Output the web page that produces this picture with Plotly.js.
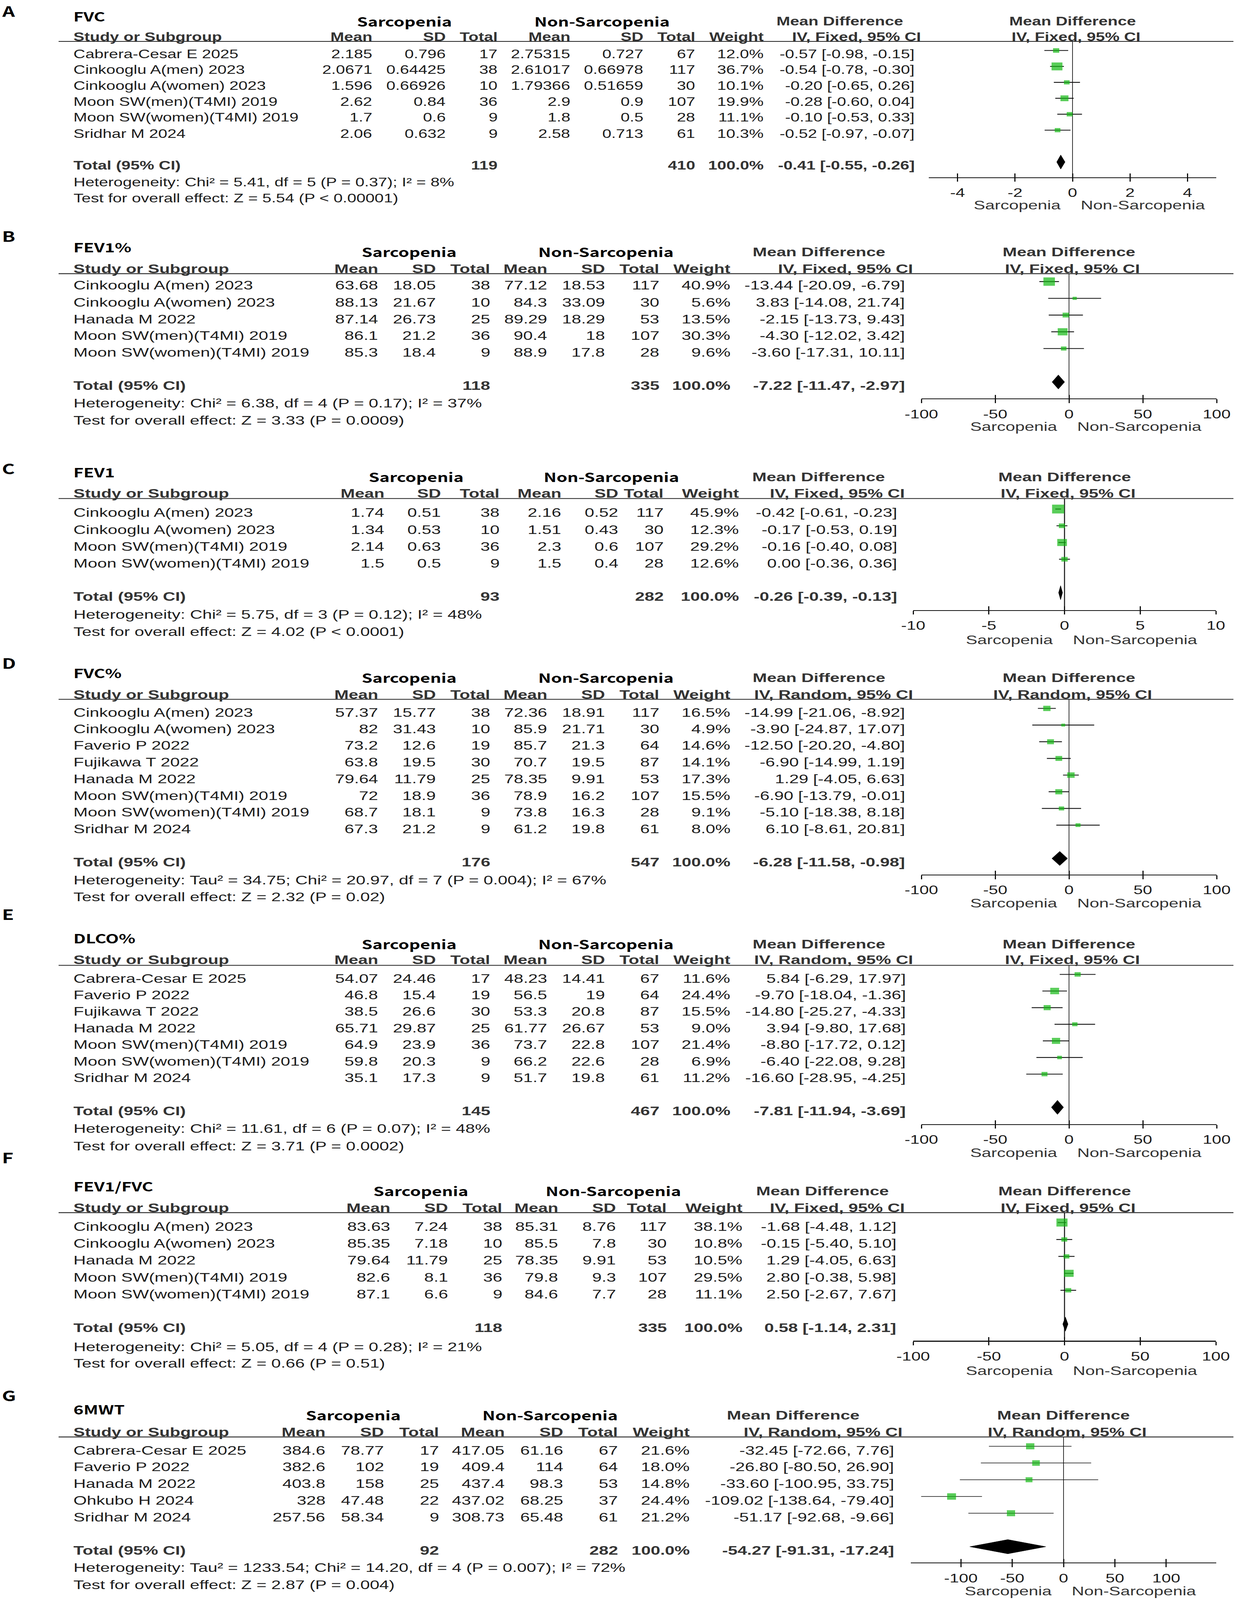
<!DOCTYPE html>
<html><head><meta charset="utf-8">
<script src="https://cdn.plot.ly/plotly-3.0.1.min.js"></script>
<style>html,body{margin:0;padding:0;background:#fff;overflow:hidden}</style>
</head><body>
<div id="wrap" style="width:3162px;height:5642px;transform-origin:0 0"><div id="chart" style="width:3162px;height:5642px"></div></div>
<script>
// ================= DATA =================
// Panel A – FVC
const A_title = 'FVC';
const A_study = ['Cabrera-Cesar E 2025','Cinkooglu A(men) 2023','Cinkooglu A(women) 2023','Moon SW(men)(T4MI) 2019','Moon SW(women)(T4MI) 2019','Sridhar M 2024'];
const A_sMean = [2.185, 2.0671, 1.596, 2.62, 1.7, 2.06];
const A_sSD   = [0.796, 0.64425, 0.66926, 0.84, 0.6, 0.632];
const A_sN    = [17, 38, 10, 36, 9, 9];
const A_nMean = [2.75315, 2.61017, 1.79366, 2.9, 1.8, 2.58];
const A_nSD   = [0.727, 0.66978, 0.51659, 0.9, 0.5, 0.713];
const A_nN    = [67, 117, 30, 107, 28, 61];
const A_weight= [12.0, 36.7, 10.1, 19.9, 11.1, 10.3];
const A_md    = [-0.57, -0.54, -0.20, -0.28, -0.10, -0.52];
const A_lo    = [-0.98, -0.78, -0.65, -0.60, -0.53, -0.97];
const A_hi    = [-0.15, -0.30, 0.26, 0.04, 0.33, -0.07];
const A_total = [119, 410];
const A_totalCI = [-0.41, -0.55, -0.26];
const A_het  = 'Heterogeneity: Chi² = 5.41, df = 5 (P = 0.37); I² = 8%';
const A_test = 'Test for overall effect: Z = 5.54 (P < 0.00001)';
const A_tabMethod = 'IV, Fixed, 95% CI';
const A_plotMethod = 'IV, Fixed, 95% CI';
const A_ticks = [-4, -2, 0, 2, 4];

// Panel B – FEV1%
const B_title = 'FEV1%';
const B_study = ['Cinkooglu A(men) 2023','Cinkooglu A(women) 2023','Hanada M 2022','Moon SW(men)(T4MI) 2019','Moon SW(women)(T4MI) 2019'];
const B_sMean = [63.68, 88.13, 87.14, 86.1, 85.3];
const B_sSD   = [18.05, 21.67, 26.73, 21.2, 18.4];
const B_sN    = [38, 10, 25, 36, 9];
const B_nMean = [77.12, 84.3, 89.29, 90.4, 88.9];
const B_nSD   = [18.53, 33.09, 18.29, 18, 17.8];
const B_nN    = [117, 30, 53, 107, 28];
const B_weight= [40.9, 5.6, 13.5, 30.3, 9.6];
const B_md    = [-13.44, 3.83, -2.15, -4.30, -3.60];
const B_lo    = [-20.09, -14.08, -13.73, -12.02, -17.31];
const B_hi    = [-6.79, 21.74, 9.43, 3.42, 10.11];
const B_total = [118, 335];
const B_totalCI = [-7.22, -11.47, -2.97];
const B_het  = 'Heterogeneity: Chi² = 6.38, df = 4 (P = 0.17); I² = 37%';
const B_test = 'Test for overall effect: Z = 3.33 (P = 0.0009)';
const B_tabMethod = 'IV, Fixed, 95% CI';
const B_plotMethod = 'IV, Fixed, 95% CI';
const B_ticks = [-100, -50, 0, 50, 100];

// Panel C – FEV1
const C_title = 'FEV1';
const C_study = ['Cinkooglu A(men) 2023','Cinkooglu A(women) 2023','Moon SW(men)(T4MI) 2019','Moon SW(women)(T4MI) 2019'];
const C_sMean = [1.74, 1.34, 2.14, 1.5];
const C_sSD   = [0.51, 0.53, 0.63, 0.5];
const C_sN    = [38, 10, 36, 9];
const C_nMean = [2.16, 1.51, 2.3, 1.5];
const C_nSD   = [0.52, 0.43, 0.6, 0.4];
const C_nN    = [117, 30, 107, 28];
const C_weight= [45.9, 12.3, 29.2, 12.6];
const C_md    = [-0.42, -0.17, -0.16, 0.00];
const C_lo    = [-0.61, -0.53, -0.40, -0.36];
const C_hi    = [-0.23, 0.19, 0.08, 0.36];
const C_total = [93, 282];
const C_totalCI = [-0.26, -0.39, -0.13];
const C_het  = 'Heterogeneity: Chi² = 5.75, df = 3 (P = 0.12); I² = 48%';
const C_test = 'Test for overall effect: Z = 4.02 (P < 0.0001)';
const C_tabMethod = 'IV, Fixed, 95% CI';
const C_plotMethod = 'IV, Fixed, 95% CI';
const C_ticks = [-10, -5, 0, 5, 10];

// Panel D – FVC%
const D_title = 'FVC%';
const D_study = ['Cinkooglu A(men) 2023','Cinkooglu A(women) 2023','Faverio P 2022','Fujikawa T 2022','Hanada M 2022','Moon SW(men)(T4MI) 2019','Moon SW(women)(T4MI) 2019','Sridhar M 2024'];
const D_sMean = [57.37, 82, 73.2, 63.8, 79.64, 72, 68.7, 67.3];
const D_sSD   = [15.77, 31.43, 12.6, 19.5, 11.79, 18.9, 18.1, 21.2];
const D_sN    = [38, 10, 19, 30, 25, 36, 9, 9];
const D_nMean = [72.36, 85.9, 85.7, 70.7, 78.35, 78.9, 73.8, 61.2];
const D_nSD   = [18.91, 21.71, 21.3, 19.5, 9.91, 16.2, 16.3, 19.8];
const D_nN    = [117, 30, 64, 87, 53, 107, 28, 61];
const D_weight= [16.5, 4.9, 14.6, 14.1, 17.3, 15.5, 9.1, 8.0];
const D_md    = [-14.99, -3.90, -12.50, -6.90, 1.29, -6.90, -5.10, 6.10];
const D_lo    = [-21.06, -24.87, -20.20, -14.99, -4.05, -13.79, -18.38, -8.61];
const D_hi    = [-8.92, 17.07, -4.80, 1.19, 6.63, -0.01, 8.18, 20.81];
const D_total = [176, 547];
const D_totalCI = [-6.28, -11.58, -0.98];
const D_het  = 'Heterogeneity: Tau² = 34.75; Chi² = 20.97, df = 7 (P = 0.004); I² = 67%';
const D_test = 'Test for overall effect: Z = 2.32 (P = 0.02)';
const D_tabMethod = 'IV, Random, 95% CI';
const D_plotMethod = 'IV, Random, 95% CI';
const D_ticks = [-100, -50, 0, 50, 100];

// Panel E – DLCO%
const E_title = 'DLCO%';
const E_study = ['Cabrera-Cesar E 2025','Faverio P 2022','Fujikawa T 2022','Hanada M 2022','Moon SW(men)(T4MI) 2019','Moon SW(women)(T4MI) 2019','Sridhar M 2024'];
const E_sMean = [54.07, 46.8, 38.5, 65.71, 64.9, 59.8, 35.1];
const E_sSD   = [24.46, 15.4, 26.6, 29.87, 23.9, 20.3, 17.3];
const E_sN    = [17, 19, 30, 25, 36, 9, 9];
const E_nMean = [48.23, 56.5, 53.3, 61.77, 73.7, 66.2, 51.7];
const E_nSD   = [14.41, 19, 20.8, 26.67, 22.8, 22.6, 19.8];
const E_nN    = [67, 64, 87, 53, 107, 28, 61];
const E_weight= [11.6, 24.4, 15.5, 9.0, 21.4, 6.9, 11.2];
const E_md    = [5.84, -9.70, -14.80, 3.94, -8.80, -6.40, -16.60];
const E_lo    = [-6.29, -18.04, -25.27, -9.80, -17.72, -22.08, -28.95];
const E_hi    = [17.97, -1.36, -4.33, 17.68, 0.12, 9.28, -4.25];
const E_total = [145, 467];
const E_totalCI = [-7.81, -11.94, -3.69];
const E_het  = 'Heterogeneity: Chi² = 11.61, df = 6 (P = 0.07); I² = 48%';
const E_test = 'Test for overall effect: Z = 3.71 (P = 0.0002)';
const E_tabMethod = 'IV, Random, 95% CI';
const E_plotMethod = 'IV, Fixed, 95% CI';
const E_ticks = [-100, -50, 0, 50, 100];

// Panel F – FEV1/FVC
const F_title = 'FEV1/FVC';
const F_study = ['Cinkooglu A(men) 2023','Cinkooglu A(women) 2023','Hanada M 2022','Moon SW(men)(T4MI) 2019','Moon SW(women)(T4MI) 2019'];
const F_sMean = [83.63, 85.35, 79.64, 82.6, 87.1];
const F_sSD   = [7.24, 7.18, 11.79, 8.1, 6.6];
const F_sN    = [38, 10, 25, 36, 9];
const F_nMean = [85.31, 85.5, 78.35, 79.8, 84.6];
const F_nSD   = [8.76, 7.8, 9.91, 9.3, 7.7];
const F_nN    = [117, 30, 53, 107, 28];
const F_weight= [38.1, 10.8, 10.5, 29.5, 11.1];
const F_md    = [-1.68, -0.15, 1.29, 2.80, 2.50];
const F_lo    = [-4.48, -5.40, -4.05, -0.38, -2.67];
const F_hi    = [1.12, 5.10, 6.63, 5.98, 7.67];
const F_total = [118, 335];
const F_totalCI = [0.58, -1.14, 2.31];
const F_het  = 'Heterogeneity: Chi² = 5.05, df = 4 (P = 0.28); I² = 21%';
const F_test = 'Test for overall effect: Z = 0.66 (P = 0.51)';
const F_tabMethod = 'IV, Fixed, 95% CI';
const F_plotMethod = 'IV, Fixed, 95% CI';
const F_ticks = [-100, -50, 0, 50, 100];

// Panel G – 6MWT
const G_title = '6MWT';
const G_study = ['Cabrera-Cesar E 2025','Faverio P 2022','Hanada M 2022','Ohkubo H 2024','Sridhar M 2024'];
const G_sMean = [384.6, 382.6, 403.8, 328, 257.56];
const G_sSD   = [78.77, 102, 158, 47.48, 58.34];
const G_sN    = [17, 19, 25, 22, 9];
const G_nMean = [417.05, 409.4, 437.4, 437.02, 308.73];
const G_nSD   = [61.16, 114, 98.3, 68.25, 65.48];
const G_nN    = [67, 64, 53, 37, 61];
const G_weight= [21.6, 18.0, 14.8, 24.4, 21.2];
const G_md    = [-32.45, -26.80, -33.60, -109.02, -51.17];
const G_lo    = [-72.66, -80.50, -100.95, -138.64, -92.68];
const G_hi    = [7.76, 26.90, 33.75, -79.40, -9.66];
const G_total = [92, 282];
const G_totalCI = [-54.27, -91.31, -17.24];
const G_het  = 'Heterogeneity: Tau² = 1233.54; Chi² = 14.20, df = 4 (P = 0.007); I² = 72%';
const G_test = 'Test for overall effect: Z = 2.87 (P = 0.004)';
const G_tabMethod = 'IV, Random, 95% CI';
const G_plotMethod = 'IV, Random, 95% CI';
const G_ticks = [-100, -50, 0, 50, 100];

const groupLabels = ['Sarcopenia', 'Non-Sarcopenia'];
const colHeaders = ['Mean', 'SD', 'Total', 'Mean', 'SD', 'Total', 'Weight'];

// ================= LAYOUT GEOMETRY (pixels of the 3162x5642 figure) =================
const W = 3162, H = 5642;
const colsStd = [969, 1117, 1256, 1402, 1550, 1689, 1871];
const GEO = {
  A: {label:37, title:57, group:75, head:129, rule:146, r0:178, step:56.2, axis:625, sarcLab:724, het:643, test:699,
      fs:42, cols:[954,1142,1275,1461,1648,1781,1956], ciR:2343, ciHdrR:2359, grp:[1035,1541,2150],
      x0:2378, x1:3114, range:[-5,5], ciW:3},
  B: {label:831, title:871, group:888, head:947, rule:965, r0:993, step:59, axis:1405, sarcLab:1504, het:1420, test:1481,
      fs:44, cols:colsStd, ciR:2318, ciHdrR:2339, grp:[1047,1551,2097], x0:2359, x1:3115, range:[-100,100], ciW:3},
  C: {label:1650, title:1664, group:1681, head:1740, rule:1758, r0:1795, step:59, axis:2151, sarcLab:2255, het:2166, test:2227,
      fs:44, cols:[985,1130,1280,1438,1584,1700,1893], ciR:2298, ciHdrR:2318, grp:[1065,1565,2096], x0:2338, x1:3113, range:[-10,10], ciW:3},
  D: {label:2336, title:2372, group:2389, head:2448, rule:2466, r0:2498, step:58.8, axis:3084, sarcLab:3184, het:3103, test:3162,
      fs:44, cols:colsStd, ciR:2318, ciHdrR:2339, grp:[1047,1551,2097], x0:2359, x1:3115, range:[-100,100], ciW:3},
  E: {label:3222, title:3308, group:3328, head:3384, rule:3404, r0:3436, step:58.6, axis:3964, sarcLab:4064, het:3979, test:4040,
      fs:44, cols:colsStd, ciR:2320, ciHdrR:2339, grp:[1047,1551,2097], x0:2359, x1:3115, range:[-100,100], ciW:3},
  F: {label:4080, title:4182, group:4199, head:4258, rule:4276, r0:4311, step:59.7, axis:4728, sarcLab:4832, het:4748, test:4807,
      fs:44, cols:[1000,1148,1287,1430,1578,1708,1902], ciR:2296, ciHdrR:2318, grp:[1077,1570,2106], x0:2338, x1:3113, range:[-100,100], ciW:3},
  G: {label:4919, title:4969, group:4989, head:5049, rule:5067, r0:5100, step:59, axis:5510, sarcLab:5610, het:5527, test:5587,
      fs:44, cols:[834,984,1125,1293,1443,1583,1767], ciR:2290, ciHdrR:2312, grp:[904,1408,2031], x0:2332, x1:3114, range:[-148.7,148.7], ciW:2}
};

const panels = [
  ['A', A_title, A_study, A_sMean, A_sSD, A_sN, A_nMean, A_nSD, A_nN, A_weight, A_md, A_lo, A_hi, A_total, A_totalCI, A_het, A_test, A_tabMethod, A_plotMethod, A_ticks],
  ['B', B_title, B_study, B_sMean, B_sSD, B_sN, B_nMean, B_nSD, B_nN, B_weight, B_md, B_lo, B_hi, B_total, B_totalCI, B_het, B_test, B_tabMethod, B_plotMethod, B_ticks],
  ['C', C_title, C_study, C_sMean, C_sSD, C_sN, C_nMean, C_nSD, C_nN, C_weight, C_md, C_lo, C_hi, C_total, C_totalCI, C_het, C_test, C_tabMethod, C_plotMethod, C_ticks],
  ['D', D_title, D_study, D_sMean, D_sSD, D_sN, D_nMean, D_nSD, D_nN, D_weight, D_md, D_lo, D_hi, D_total, D_totalCI, D_het, D_test, D_tabMethod, D_plotMethod, D_ticks],
  ['E', E_title, E_study, E_sMean, E_sSD, E_sN, E_nMean, E_nSD, E_nN, E_weight, E_md, E_lo, E_hi, E_total, E_totalCI, E_het, E_test, E_tabMethod, E_plotMethod, E_ticks],
  ['F', F_title, F_study, F_sMean, F_sSD, F_sN, F_nMean, F_nSD, F_nN, F_weight, F_md, F_lo, F_hi, F_total, F_totalCI, F_het, F_test, F_tabMethod, F_plotMethod, F_ticks],
  ['G', G_title, G_study, G_sMean, G_sSD, G_sN, G_nMean, G_nSD, G_nN, G_weight, G_md, G_lo, G_hi, G_total, G_totalCI, G_het, G_test, G_tabMethod, G_plotMethod, G_ticks]
];

// ================= BUILD =================
const FONT = '"Liberation Sans", Arial, Helvetica, sans-serif';
const CJK = '"Noto Sans CJK SC", "Noto Sans", sans-serif';
const GREEN = '#12b812';
const TXT = '#1c1c1c', HDR = '#333333';
const TEXT_OFF = 13;
const BOX_K = 4.6;
const DIAMOND_HALF = 25;

const px = x => x / W;
const py = y => 1 - y / H;
const fmt2 = v => v.toFixed(2);
const ciTxt = (m, l, h) => `${fmt2(m)} [${fmt2(l)}, ${fmt2(h)}]`;

const traces = [];
const annotations = [];
const shapes = [];
const layout = {
  width: W, height: H, margin: {l:0, r:0, t:0, b:0},
  paper_bgcolor: '#fff', plot_bgcolor: 'rgba(0,0,0,0)',
  showlegend: false, annotations, shapes, hovermode: false
};

function T(text, x, y, o) {
  o = o || {};
  annotations.push({
    text: text, x: px(x), y: py(y), xref: 'paper', yref: 'paper', showarrow: false,
    xanchor: o.xa || 'left', yanchor: 'middle', borderpad: 0,
    font: {family: o.fam || FONT, size: o.size, color: o.color || TXT}
  });
}

panels.forEach((p, idx) => {
  const [id, title, study, sMean, sSD, sN, nMean, nSD, nN, weight, md, lo, hi, total, totCI, het, test, tabMethod, plotMethod, ticks] = p;
  const g = GEO[id];
  const k = idx + 1;
  const xid = k === 1 ? '' : String(k);
  const xo = String(k + 7);
  const n = study.length;
  const rowPx = i => g.r0 + i * g.step;
  const diamondPx = rowPx(n + 1);
  const fs = g.fs;

  T('<b>' + id + '</b>', 4, g.label, {fam: CJK, size: 50, color: '#000'});
  T('<b>' + title + '</b>', 187, g.title, {fam: CJK, size: 44, color: '#000'});
  T('<b>' + groupLabels[0] + '</b>', g.grp[0], g.group, {fam: CJK, size: 44, color: '#000', xa: 'center'});
  T('<b>' + groupLabels[1] + '</b>', g.grp[1], g.group, {fam: CJK, size: 44, color: '#000', xa: 'center'});
  T('<b>Mean Difference</b>', g.grp[2], g.group, {size: fs, color: HDR, xa: 'center'});
  T('<b>Study or Subgroup</b>', 187, g.head, {size: fs, color: HDR});
  colHeaders.forEach((h, c) => T('<b>' + h + '</b>', g.cols[c], g.head, {size: fs, color: HDR, xa: 'right'}));
  T('<b>' + tabMethod + '</b>', g.ciHdrR, g.head, {size: fs, color: HDR, xa: 'right'});

  annotations.push({text: '<b>Mean Difference</b>', xref: 'x' + xid, x: 0, yref: 'paper', y: py(g.group),
    xanchor: 'center', yanchor: 'middle', showarrow: false, borderpad: 0, font: {family: FONT, size: fs, color: HDR}});
  annotations.push({text: '<b>' + plotMethod + '</b>', xref: 'x' + xid, x: 0, xshift: 9, yref: 'paper', y: py(g.head),
    xanchor: 'center', yanchor: 'middle', showarrow: false, borderpad: 0, font: {family: FONT, size: fs, color: HDR}});
  annotations.push({text: groupLabels[0], xref: 'x' + xid, x: 0, xshift: -29, yref: 'paper', y: py(g.sarcLab),
    xanchor: 'right', yanchor: 'middle', showarrow: false, borderpad: 0, font: {family: FONT, size: 44, color: HDR}});
  annotations.push({text: groupLabels[1], xref: 'x' + xid, x: 0, xshift: 20, yref: 'paper', y: py(g.sarcLab),
    xanchor: 'left', yanchor: 'middle', showarrow: false, borderpad: 0, font: {family: FONT, size: 44, color: HDR}});

  shapes.push({type: 'line', xref: 'paper', yref: 'paper', x0: px(150), x1: px(3158), y0: py(g.rule), y1: py(g.rule),
    line: {color: '#222', width: 3}});

  study.forEach((s, i) => {
    const y = rowPx(i) + (id === 'A' ? 12 : TEXT_OFF);
    T(s, 187, y, {size: fs});
    const vals = [sMean[i], sSD[i], sN[i], nMean[i], nSD[i], nN[i], weight[i].toFixed(1) + '%'];
    vals.forEach((v, c) => T(String(v), g.cols[c], y, {size: fs, xa: 'right'}));
    T(ciTxt(md[i], lo[i], hi[i]), g.ciR, y, {size: fs, xa: 'right'});
  });

  const ty = diamondPx + 12;
  T('<b>Total (95% CI)</b>', 187, ty, {size: fs, color: HDR});
  T('<b>' + total[0] + '</b>', g.cols[2], ty, {size: fs, color: HDR, xa: 'right'});
  T('<b>' + total[1] + '</b>', g.cols[5], ty, {size: fs, color: HDR, xa: 'right'});
  T('<b>100.0%</b>', g.cols[6], ty, {size: fs, color: HDR, xa: 'right'});
  T('<b>' + ciTxt(totCI[0], totCI[1], totCI[2]) + '</b>', g.ciR, ty, {size: fs, color: HDR, xa: 'right'});
  T(het, 187, g.het, {size: fs});
  T(test, 187, g.test, {size: fs});

  const yBottom = (g.axis - g.r0) / g.step;
  const yTop = (g.rule - g.r0) / g.step;
  const tickText = ticks.map(v => String(v));
  layout['yaxis' + xid] = {domain: [py(g.axis), py(g.rule)], range: [yBottom, yTop], visible: false, fixedrange: true};
  layout['xaxis' + xid] = {
    domain: [px(g.x0), px(g.x1)], range: g.range, anchor: 'y' + xid, fixedrange: true,
    tickmode: 'array', tickvals: ticks, ticktext: tickText,
    ticks: 'outside', ticklen: 13, tickwidth: 3, tickcolor: '#111',
    showline: true, linewidth: 3, linecolor: '#111',
    zeroline: true, zerolinecolor: '#333', zerolinewidth: 2.5, showgrid: false,
    tickfont: {family: FONT, size: 43, color: TXT}, ticklabelstandoff: 2
  };
  layout['xaxis' + xo] = {
    overlaying: 'x' + xid, anchor: 'y' + xid, range: g.range, fixedrange: true,
    tickmode: 'array', tickvals: ticks, ticks: 'inside', ticklen: 13, tickwidth: 3, tickcolor: '#111',
    showticklabels: false, showline: false, zeroline: false, showgrid: false
  };

  const rows = study.map((_, i) => i);
  traces.push({
    type: 'scatter', mode: 'markers', x: md, y: rows, xaxis: 'x' + xid, yaxis: 'y' + xid,
    marker: {symbol: 'square', size: weight.map(w => BOX_K * Math.sqrt(w)), color: GREEN, line: {width: 0}},
    error_x: {type: 'data', symmetric: false, array: hi.map((h, i) => h - md[i]), arrayminus: lo.map((l, i) => md[i] - l),
      width: 0, thickness: g.ciW, color: '#111'},
    hoverinfo: 'skip', cliponaxis: false
  });
  const yd = n + 1, hh = DIAMOND_HALF / g.step;
  traces.push({
    type: 'scatter', mode: 'lines', xaxis: 'x' + xid, yaxis: 'y' + xid,
    x: [totCI[1], totCI[0], totCI[2], totCI[0], totCI[1]],
    y: [yd, yd - hh, yd, yd + hh, yd],
    fill: 'toself', fillcolor: '#000', line: {color: '#000', width: 1}, hoverinfo: 'skip'
  });
  traces.push({type: 'scatter', mode: 'markers', x: [ticks[0]], y: [yd], xaxis: 'x' + xo, yaxis: 'y' + xid,
    marker: {opacity: 0, size: 1}, hoverinfo: 'skip'});
});

// If the browser viewport is smaller than the figure, fit the whole figure into it
(function fitToViewport() {
  const sx = Math.min(1, window.innerWidth / W);
  const sy = Math.min(1, window.innerHeight / H);
  if (sx < 1 || sy < 1) document.getElementById('wrap').style.transform = 'scale(' + sx + ',' + sy + ')';
})();

Plotly.newPlot('chart', traces, layout, {staticPlot: true, displayModeBar: false});
</script>
</body></html>
